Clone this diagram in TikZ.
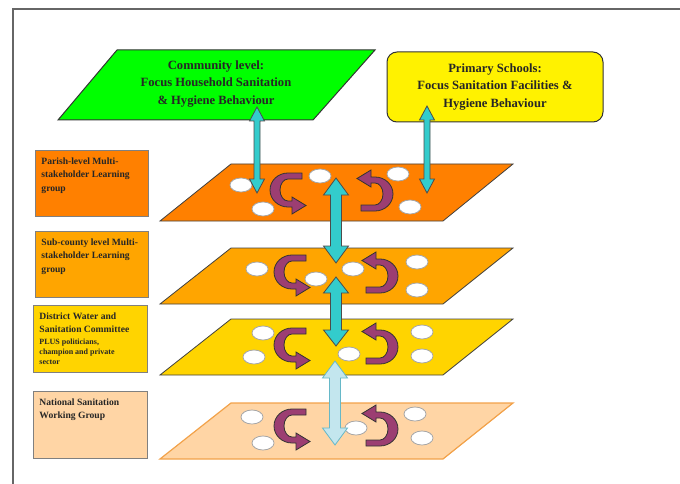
\documentclass[tikz,border=0pt]{standalone}
\usepackage{fontspec}
\setmainfont{Liberation Serif}
\usetikzlibrary{calc}

\definecolor{lawn}{HTML}{00FF00}
\definecolor{parish}{HTML}{FF8000}
\definecolor{county}{HTML}{FFA500}
\definecolor{district}{HTML}{FFD400}
\definecolor{national}{HTML}{FFD5A5}
\definecolor{nationaledge}{HTML}{F2A24A}
\definecolor{plum}{HTML}{9C3E72}
\definecolor{aqua}{HTML}{33CCCC}
\definecolor{paleaqua}{HTML}{C3E6EE}
\definecolor{paleedge}{HTML}{66B8C8}

\tikzset{
  plane/.style={draw=black!75, line width=0.8},
  spot/.style={draw=black!35, fill=white, line width=0.8},
  curl/.style={draw=black!80, fill=plum, line width=0.8},
  flow/.style={draw=black!70, fill=aqua, line width=0.8},
  paleflow/.style={draw=paleedge, fill=paleaqua, line width=0.8},
  lbox/.style={draw=black!50, line width=0.9, anchor=north west,
    inner xsep=6pt, inner ysep=7pt, text=black!85,
    font=\fontsize{9.6}{13.5}\selectfont\bfseries},
  head/.style={align=center, text=black!85,
    font=\fontsize{12.6}{17.5}\selectfont\bfseries}
}

% ribbon arrow turning round a centre
\newcommand{\curl}[3]{%
  \draw[curl, shift={(#1,#2)}, rotate=#3] (14,-17) -- (0,-17)
    arc[start angle=-90, end angle=-270, x radius=18, y radius=17]
    -- (4,17) -- (4,24) -- (18,15.5) -- (4,7) -- (4,11) -- (0,11)
    arc[start angle=90, end angle=270, x radius=8, y radius=11]
    -- (14,-11) -- cycle;}

% block arrow with a head at both ends, top to bottom
\newcommand{\fatarrow}[6]{%
  \draw[#1] (#2) -- ($(#2)+(#5,#6)$) -- ($(#2)+(#4,#6)$)
    -- ($(#3)+(#4,-#6)$) -- ($(#3)+(#5,-#6)$) -- (#3)
    -- ($(#3)+(-#5,-#6)$) -- ($(#3)+(-#4,-#6)$)
    -- ($(#2)+(-#4,#6)$) -- ($(#2)+(-#5,#6)$) -- cycle;}

\begin{document}
\begin{tikzpicture}[x=1pt, y=-1pt]
  \useasboundingbox (0,0) rectangle (680,484);
  \draw[black!60, line width=1.2] (13,484) -- (13,9) -- (680,9);

  % layers
  \draw[plane, fill=parish] (231,164) -- (513,164) -- (443,221) -- (160,221) -- cycle;
  \draw[plane, fill=county] (231,248) -- (513,248) -- (443,304) -- (160,304) -- cycle;
  \draw[plane, fill=district] (231,319) -- (513,319) -- (443,375) -- (160,375) -- cycle;
  \draw[draw=nationaledge, line width=1.2, fill=national] (231,403) -- (513,403) -- (443,459) -- (160,459) -- cycle;

  % level boxes
  \node[lbox, fill=parish] (parishbox) at (35,150)
    {\parbox[c][52pt][t]{101pt}{\raggedright Parish-level Multi-\\stakeholder Learning\\group}};
  \node[lbox, fill=county] (countybox) at (35,231)
    {\parbox[c][52pt][t]{101pt}{\raggedright Sub-county level Multi-\\stakeholder Learning\\group}};
  \node[lbox, fill=district] (districtbox) at (33,305)
    {\parbox[c][53pt][t]{102pt}{\raggedright District Water and\\Sanitation Committee\par\vspace{2pt}
      \fontsize{8}{10}\selectfont PLUS politicians,\\champion and private\\sector}};
  \node[lbox, fill=national] (nationalbox) at (33,391)
    {\parbox[c][53pt][t]{102pt}{\raggedright National Sanitation\\Working Group}};

  % top boxes
  \draw[draw=black!80, line width=1, fill=lawn] (117,50) -- (375,50) -- (313,120) -- (58,120) -- cycle;
  \node[head] (community) at (216,84) {Community level:\\Focus Household Sanitation\\\& Hygiene Behaviour};
  \node[head, draw=black!80, line width=1, fill=yellow, rounded corners=10,
    minimum width=216, minimum height=70] (schools) at (495,87)
    {Primary Schools:\\Focus Sanitation Facilities \&\\Hygiene Behaviour};

  % members
  \draw[spot] (241,185) ellipse (11 and 7);
  \draw[spot] (320,176) ellipse (11 and 7);
  \draw[spot] (398,174) ellipse (11 and 7);
  \draw[spot] (263,209) ellipse (11 and 7);
  \draw[spot] (410,207) ellipse (11 and 7);
  \draw[spot] (257,269) ellipse (11 and 7);
  \draw[spot] (316,279) ellipse (11 and 7);
  \draw[spot] (353,269) ellipse (11 and 7);
  \draw[spot] (417,262) ellipse (11 and 7);
  \draw[spot] (417,290) ellipse (11 and 7);
  \draw[spot] (263,333) ellipse (11 and 7);
  \draw[spot] (254,357) ellipse (11 and 7);
  \draw[spot] (349,354) ellipse (11 and 7);
  \draw[spot] (422,332) ellipse (11 and 7);
  \draw[spot] (422,356) ellipse (11 and 7);
  \draw[spot] (252,417) ellipse (11 and 7);
  \draw[spot] (263,443) ellipse (11 and 7);
  \draw[spot] (356,428) ellipse (11 and 7);
  \draw[spot] (415,414) ellipse (11 and 7);
  \draw[spot] (422,438) ellipse (11 and 7);

  % learning loops
  \curl{288}{190}{0}
  \curl{375}{194}{180}
  \curl{292}{272}{0}
  \curl{380}{276}{180}
  \curl{292}{345}{0}
  \curl{380}{347}{180}
  \curl{292}{426}{0}
  \curl{380}{429}{180}

  % links
  \coordinate (commdown) at (257,107);
  \coordinate (parishleft) at (257,193);
  \coordinate (schooldown) at (427,106);
  \coordinate (parishright) at (427,193);
  \coordinate (parishmid) at (336,178);
  \coordinate (countytop) at (336,263);
  \coordinate (countymid) at (336,277);
  \coordinate (districttop) at (336,346);
  \coordinate (districtmid) at (335,361);
  \coordinate (nationaltop) at (335,445);
  \fatarrow{flow}{commdown}{parishleft}{3}{7.5}{14}
  \fatarrow{flow}{schooldown}{parishright}{3}{7.5}{14}
  \fatarrow{flow}{parishmid}{countytop}{5.5}{12.5}{17}
  \fatarrow{flow}{countymid}{districttop}{5.5}{12.5}{16}
  \fatarrow{paleflow}{districtmid}{nationaltop}{5.5}{12.5}{17}
\end{tikzpicture}
\end{document}
